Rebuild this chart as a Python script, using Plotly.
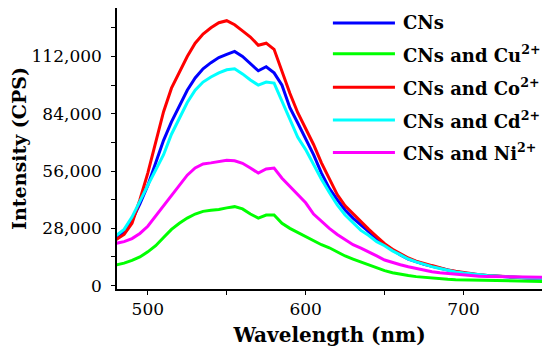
import plotly.graph_objects as go

wavelength = list(range(480, 751, 5))

cns = [22800, 26000, 32000, 40000, 49000, 60000, 71000, 80000, 88000, 95500,
       101500, 106000, 109000, 111500, 113000, 114500, 112000, 108500, 105000, 107000,
       104000, 98000, 87000, 79500, 71500, 64000, 55000, 47500, 42000, 37000,
       33000, 29500, 26500, 23000, 20000, 17300, 15000, 13000, 11600, 10400,
       9400, 8500, 7500, 6800, 6200, 5600, 5200, 4900, 4600, 4300,
       4100, 3900, 3700, 3600, 3500]

cns_cu = [10100, 11000, 12300, 14000, 16500, 19500, 23500, 27500, 30500, 33000,
          35000, 36300, 36800, 37200, 38000, 38600, 37500, 35000, 33000, 34500,
          34500, 30500, 28000, 26000, 24000, 22000, 20000, 18500, 16500, 14500,
          13000, 11500, 10000, 8500, 7300, 6300, 5500, 4900, 4400, 4000,
          3700, 3400, 3100, 2900, 2800, 2600, 2500, 2400, 2300, 2200,
          2100, 2100, 2000, 2000, 2000]

cns_co = [22500, 25000, 30500, 42000, 55000, 70000, 85000, 96500, 104000, 112000,
          118500, 123000, 126000, 128500, 129500, 127500, 124500, 121500, 117500, 118500,
          115500, 104500, 94000, 84500, 77000, 69000, 60000, 52000, 44500, 39000,
          35000, 31000, 27500, 24000, 20500, 17800, 15500, 13500, 12000, 10800,
          9800, 8800, 7700, 7000, 6400, 5800, 5300, 5000, 4700, 4400,
          4200, 4000, 3800, 3700, 3600]

cns_cd = [24500, 27500, 33500, 41500, 49000, 56500, 64000, 74000, 82000, 89500,
          95500, 99500, 102000, 104000, 105500, 106000, 103500, 100500, 98000, 99500,
          99000, 90000, 81500, 72500, 66500, 59000, 52000, 45500, 39500, 34500,
          30500, 27000, 24500, 21500, 19500, 17000, 15000, 13000, 11600, 10300,
          9300, 8400, 7400, 6700, 6200, 5700, 5300, 5000, 4700, 4400,
          4200, 4000, 3800, 3700, 3600]

cns_ni = [20700, 21500, 23000, 25500, 29000, 34000, 39500, 44500, 49500, 54000,
          57500, 59500, 60000, 60800, 61300, 61000, 59800, 57500, 55000, 57000,
          57500, 52500, 48500, 44500, 40500, 35000, 31500, 28000, 25000, 22500,
          20000, 18300, 16200, 14500, 12500, 11200, 10200, 9200, 8300, 7500,
          6800, 6300, 5900, 5500, 5200, 4900, 4600, 4500, 4400, 4300,
          4200, 4200, 4100, 4100, 4100]

series_names = ["CNs", "CNs and Cu<sup>2+</sup>", "CNs and Co<sup>2+</sup>",
                "CNs and Cd<sup>2+</sup>", "CNs and Ni<sup>2+</sup>"]
series_values = [cns, cns_cu, cns_co, cns_cd, cns_ni]
series_colors = ["#0000FF", "#00FF00", "#FF0000", "#00FFFF", "#FF00FF"]

y_tickvals = list(range(0, 140001, 14000))
y_ticktext = [f"{v:,}" if v % 28000 == 0 else "" for v in y_tickvals]
x_tickvals = [500, 550, 600, 650, 700, 750]
x_ticktext = ["500", "", "600", "", "700", ""]

FONT = "DejaVu Serif"

fig = go.Figure()
for name, vals, col in zip(series_names, series_values, series_colors):
    fig.add_trace(go.Scatter(x=wavelength, y=vals, mode="lines", name=name,
                             line=dict(color=col, width=3), showlegend=False))

# manual legend (long line samples like the reference)
leg_y = [0.947, 0.837, 0.718, 0.601, 0.486]
for name, col, yy in zip(series_names, series_colors, leg_y):
    fig.add_shape(type="line", xref="paper", yref="paper",
                  x0=0.508, x1=0.654, y0=yy, y1=yy,
                  line=dict(color=col, width=3))
    fig.add_annotation(xref="paper", yref="paper", x=0.668, y=yy,
                       text=f"<b>{name}</b>", showarrow=False,
                       xanchor="left", yanchor="middle",
                       font=dict(family=FONT, size=18, color="black"))

axis_common = dict(showline=True, linecolor="black", linewidth=1.5, mirror=True,
                   ticks="outside", ticklen=4, tickcolor="black", tickwidth=1.2,
                   showgrid=False, zeroline=False, automargin=False,
                   tickfont=dict(family=FONT, size=17, color="black"))

fig.update_xaxes(range=[480.5, 749.7], tickmode="array", tickvals=x_tickvals,
                 ticktext=x_ticktext, ticklabelstandoff=0,
                 title=dict(text="<b>Wavelength (nm)</b>", standoff=10,
                            font=dict(family=FONT, size=20, color="black")),
                 **axis_common)
fig.update_yaxes(range=[-1650, 135700], tickmode="array", tickvals=y_tickvals,
                 ticktext=y_ticktext, ticklabelstandoff=6,
                 title=dict(text="<b>Intensity (CPS)</b>", standoff=8,
                            font=dict(family=FONT, size=19, color="black")),
                 **axis_common)

# the page body adds an 8 px margin, so the figure is sized to fit 550x348
fig.update_layout(width=542, height=340, autosize=False,
                  margin=dict(l=109, r=8, t=0, b=59),
                  paper_bgcolor="white", plot_bgcolor="white")

fig.write_html("out.html")
